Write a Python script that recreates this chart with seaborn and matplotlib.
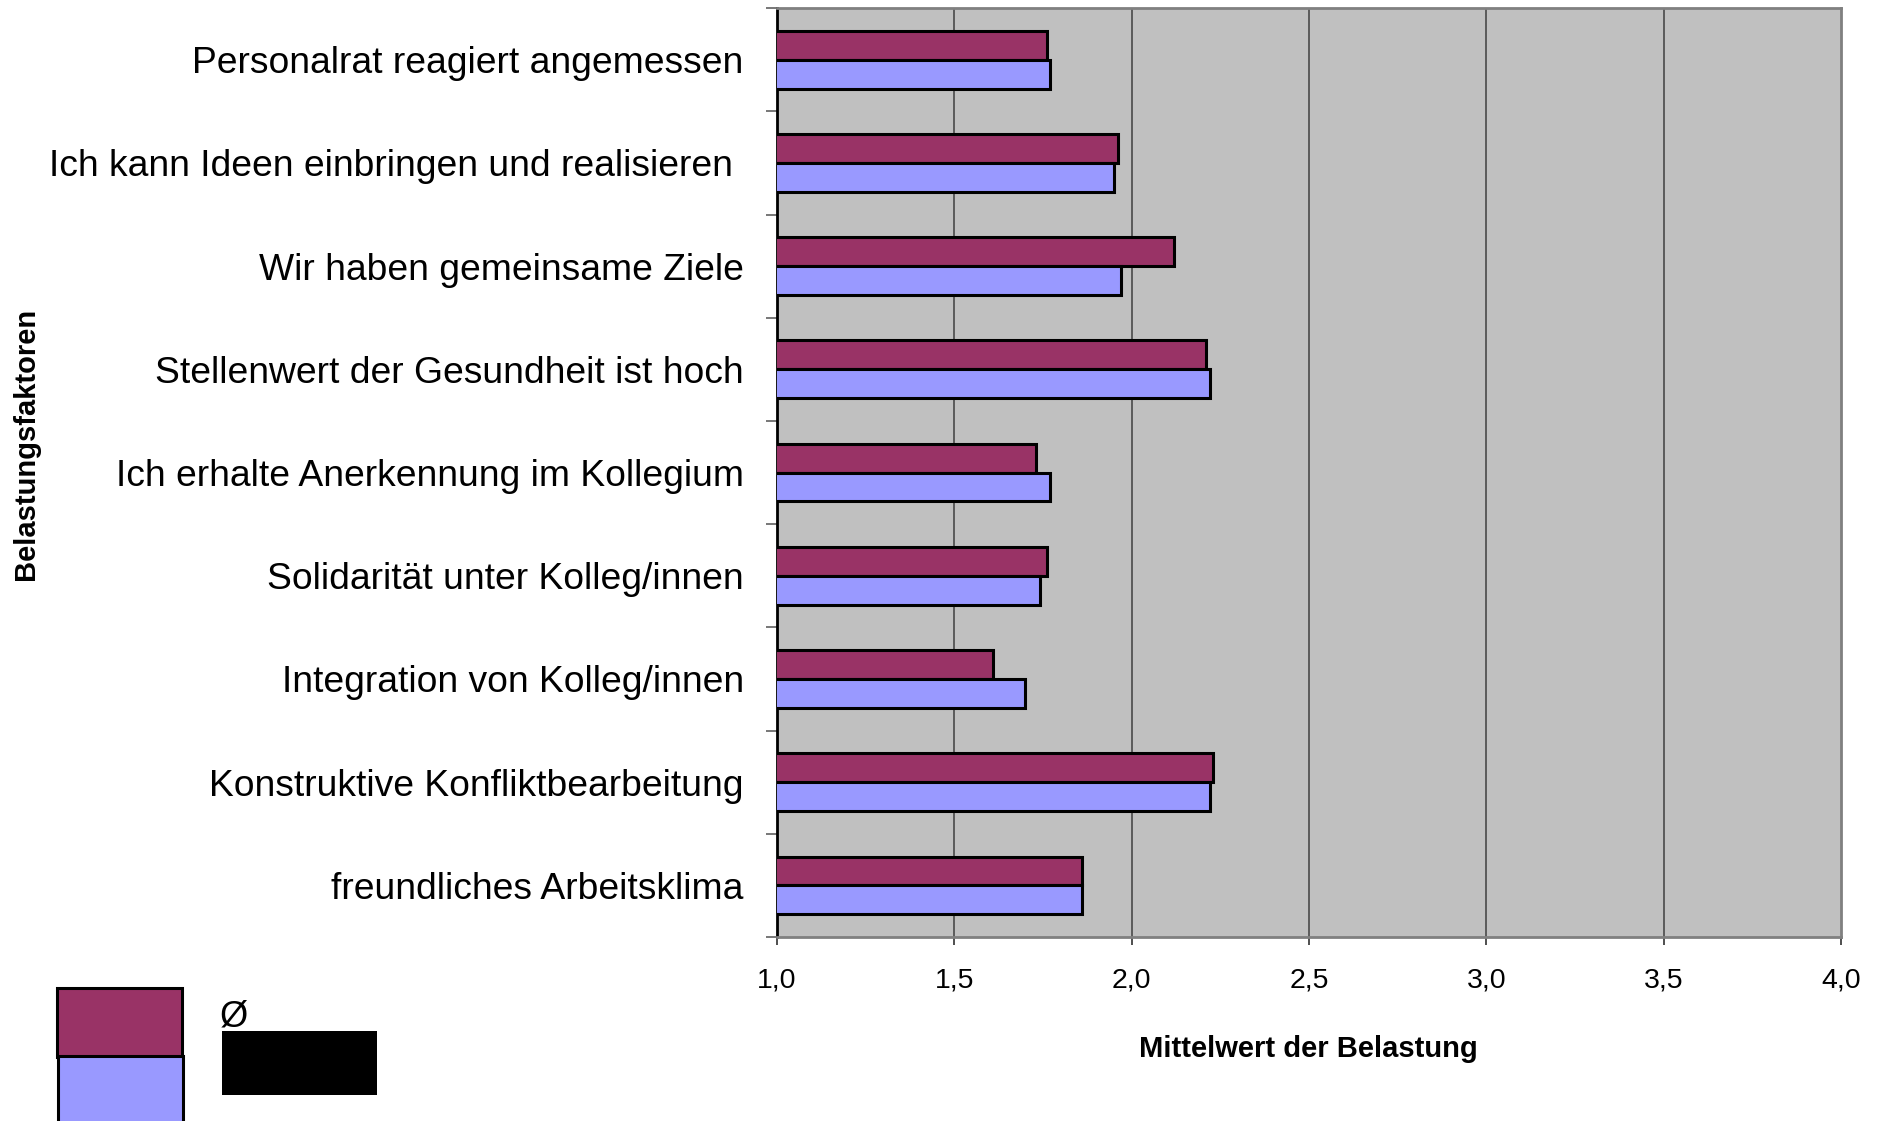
import numpy as np
import pandas as pd
import matplotlib
matplotlib.use("Agg")
import matplotlib.pyplot as plt
from matplotlib.patches import Rectangle
import seaborn as sns

categories = [
    "Personalrat reagiert angemessen",
    "Ich kann Ideen einbringen und realisieren ",
    "Wir haben gemeinsame Ziele",
    "Stellenwert der Gesundheit ist hoch",
    "Ich erhalte Anerkennung im Kollegium",
    "Solidarität unter Kolleg/innen",
    "Integration von Kolleg/innen",
    "Konstruktive Konfliktbearbeitung",
    "freundliches Arbeitsklima",
]
series_names = ["Ø Gesamt", "Schule"]
values_avg = [1.76, 1.96, 2.12, 2.21, 1.73, 1.76, 1.61, 2.23, 1.86]
values_school = [1.77, 1.95, 1.97, 2.22, 1.77, 1.74, 1.70, 2.22, 1.86]
colors = ["#993366", "#9999FF"]
x_ticks = [1.0, 1.5, 2.0, 2.5, 3.0, 3.5, 4.0]
x_tick_labels = ["1,0", "1,5", "2,0", "2,5", "3,0", "3,5", "4,0"]

df = pd.DataFrame({
    "Faktor": categories * 2,
    "Serie": [series_names[0]] * len(categories) + [series_names[1]] * len(categories),
    "Wert": values_avg + values_school,
})

sns.set_theme(style="white", rc={"text.color": "black", "xtick.color": "black",
                                 "ytick.color": "black", "axes.labelcolor": "black"})
plt.rcParams["font.family"] = ["Liberation Sans", "DejaVu Sans"]

fig = plt.figure(figsize=(18.81, 11.21), dpi=100)
ax = fig.add_axes([0.4131, 0.1641, 0.5657, 0.8287])
ax.set_facecolor("#C0C0C0")

sns.barplot(data=df, y="Faktor", x="Wert", hue="Serie", orient="y",
            palette=colors, saturation=1, width=0.56, edgecolor="black",
            linewidth=2.2, legend=False, ax=ax, order=categories,
            hue_order=series_names, zorder=3)

ax.set_xlim(1.0, 4.0)
ax.set_ylim(len(categories) - 0.5, -0.5)
ax.set_xticks(x_ticks)
ax.set_xticklabels(x_tick_labels, fontsize=20.5)
ax.tick_params(axis="x", direction="out", length=6, width=1.2, color="#303030",
               pad=16, bottom=True, labelcolor="black")
for x in x_ticks[1:-1]:
    ax.axvline(x, color="#404040", lw=1.1, zorder=1)

# category labels at centres (minor), tick marks at boundaries (major)
ax.set_yticks(np.arange(-0.5, len(categories), 1.0))
ax.set_yticklabels([])
ax.set_yticks(np.arange(len(categories)), minor=True)
ax.set_yticklabels(categories, minor=True, fontsize=26.8)
ax.tick_params(axis="y", which="major", direction="out", length=8, width=1.2,
               color="#606060", left=True)
ax.tick_params(axis="y", which="minor", length=0, pad=24, labelcolor="black")

ax.set_xlabel("")
ax.set_ylabel("")
for side in ["top", "right", "bottom"]:
    ax.spines[side].set_color("#808080")
    ax.spines[side].set_linewidth(2)
ax.spines["left"].set_color("black")
ax.spines["left"].set_linewidth(2)

fig.text(0.6955, 0.064, "Mittelwert der Belastung", ha="center", va="center",
         fontsize=21, fontweight="bold", color="black")
fig.text(0.0138, 0.604, "Belastungsfaktoren", ha="center", va="center",
         rotation=90, fontsize=21, fontweight="bold", color="black")

# legend
fig.patches.append(Rectangle((0.0303, 0.0571), 0.0665, 0.0616,
                             transform=fig.transFigure, facecolor=colors[0],
                             edgecolor="black", lw=2.2))
fig.patches.append(Rectangle((0.0308, -0.01), 0.0665, 0.0681,
                             transform=fig.transFigure, facecolor=colors[1],
                             edgecolor="black", lw=2.2))
fig.text(0.1245, 0.0928, "Ø", ha="center", va="center", fontsize=26, color="black")
fig.patches.append(Rectangle((0.118, 0.0232), 0.0824, 0.0571,
                             transform=fig.transFigure, facecolor="black",
                             edgecolor="none"))

fig.savefig("out.png", dpi=100)
